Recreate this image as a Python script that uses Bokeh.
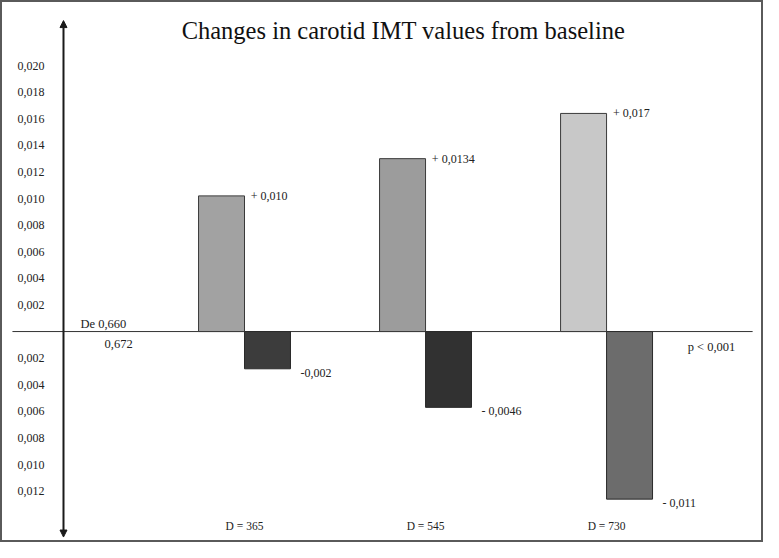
from bokeh.plotting import figure
from bokeh.models import (Range1d, LinearAxis, FixedTicker, Arrow, NormalHead,
                          Label, ColumnDataSource)
from bokeh.core.properties import value
from bokeh.embed import file_html
from bokeh.resources import INLINE

# ---------------- data ----------------
title_text = "Changes in carotid IMT values from baseline"
groups = ["D = 365", "D = 545", "D = 730"]
group_pos = [1, 2, 3]
pos_values = [0.0102, 0.0130, 0.0164]
neg_values = [-0.0028, -0.0057, -0.0126]
pos_labels = ["+ 0,010", "+ 0,0134", "+ 0,017"]
neg_labels = ["-0,002", "- 0,0046", "- 0,011"]
pos_colors = ["#a2a2a2", "#9c9c9c", "#c8c8c8"]
neg_colors = ["#3c3c3c", "#313131", "#6c6c6c"]
baseline_labels = ["De 0,660", "0,672"]
p_label = "p < 0,001"
y_ticks = [-0.012, -0.010, -0.008, -0.006, -0.004, -0.002,
           0.002, 0.004, 0.006, 0.008, 0.010, 0.012, 0.014, 0.016, 0.018, 0.020]
y_tick_labels = ["0,012", "0,010", "0,008", "0,006", "0,004", "0,002",
                 "0,002", "0,004", "0,006", "0,008", "0,010", "0,012", "0,014", "0,016", "0,018", "0,020"]

SERIF = value("Liberation Serif")
BAR_W = 0.254

p = figure(width=763, height=542, output_backend="svg", toolbar_location=None,
           x_range=Range1d(-0.348, 3.867), y_range=Range1d(-0.01586, 0.02489),
           x_axis_location=None, y_axis_location=None, min_border=0,
           background_fill_color="white", border_fill_color="white")
p.xgrid.visible = False
p.ygrid.visible = False
p.outline_line_color = "#5a5a5a"
p.outline_line_width = 3

# y axis (fixed at x = 0)
yax = LinearAxis(ticker=FixedTicker(ticks=y_ticks), fixed_location=0)
yax.major_label_overrides = {t: l for t, l in zip(y_ticks, y_tick_labels)}
yax.axis_line_color = None
yax.major_tick_line_color = None
yax.minor_tick_line_color = None
yax.major_label_standoff = 13
yax.major_label_text_font = "Liberation Serif"
yax.major_label_text_font_size = "12px"
yax.major_label_text_color = "#222222"
p.add_layout(yax, "left")

# category axis near bottom
xax = LinearAxis(ticker=FixedTicker(ticks=group_pos), fixed_location=-0.01368)
xax.major_label_overrides = {g: l for g, l in zip(group_pos, groups)}
xax.axis_line_color = None
xax.major_tick_line_color = None
xax.minor_tick_line_color = None
xax.major_label_standoff = 0
xax.major_label_text_font = "Liberation Serif"
xax.major_label_text_font_size = "11.5px"
xax.major_label_text_color = "#222222"
p.add_layout(xax, "below")

# arrows forming vertical axis line
p.add_layout(Arrow(end=NormalHead(size=7, fill_color="#1a1a1a", line_color="#1a1a1a"),
                   x_start=0, y_start=0, x_end=0, y_end=0.02338,
                   line_width=2, line_color="#1a1a1a"))
p.add_layout(Arrow(end=NormalHead(size=7, fill_color="#1a1a1a", line_color="#1a1a1a"),
                   x_start=0, y_start=0, x_end=0, y_end=-0.01545,
                   line_width=2, line_color="#1a1a1a"))

# zero line
p.segment(x0=[-0.282], y0=[0], x1=[3.807], y1=[0], line_color="#333333", line_width=1)

# bars
src_pos = ColumnDataSource(dict(x=[g - BAR_W / 2 for g in group_pos], top=pos_values,
                                color=pos_colors, lx=[g + 0.035 for g in group_pos],
                                label=pos_labels))
src_neg = ColumnDataSource(dict(x=[g + BAR_W / 2 for g in group_pos], top=neg_values,
                                color=neg_colors, lx=[g + BAR_W + 0.055 for g in group_pos],
                                label=neg_labels))
p.vbar(x="x", top="top", bottom=0, width=BAR_W, fill_color="color",
       line_color="#3a3a3a", line_width=1, source=src_pos)
p.vbar(x="x", top="top", bottom=0, width=BAR_W, fill_color="color",
       line_color="#2a2a2a", line_width=1, source=src_neg)

p.text(x="lx", y="top", text="label", source=src_pos, text_font=SERIF,
       text_font_size="12px", text_color="#222222", text_baseline="middle")
p.text(x="lx", y="top", text="label", source=src_neg, text_font=SERIF,
       text_font_size="12px", text_color="#222222", text_baseline="middle", y_offset=4)

# baseline annotations
p.text(x=[0.094], y=[0], text=[baseline_labels[0]], text_font=SERIF, text_font_size="12.5px",
       text_color="#222222", text_baseline="bottom", y_offset=-1)
p.text(x=[0.227], y=[0], text=[baseline_labels[1]], text_font=SERIF, text_font_size="12.5px",
       text_color="#222222", text_baseline="top", y_offset=8)
p.text(x=[3.448], y=[0], text=[p_label], text_font=SERIF, text_font_size="12.5px",
       text_color="#222222", text_baseline="top", y_offset=8)

# title
p.add_layout(Label(x=1.878, y=0.02263, text=title_text, text_font="Liberation Serif",
                   text_font_size="24.5px", text_color="#111111", text_align="center",
                   text_baseline="middle"))

open("out.html", "w").write(file_html(p, INLINE))
